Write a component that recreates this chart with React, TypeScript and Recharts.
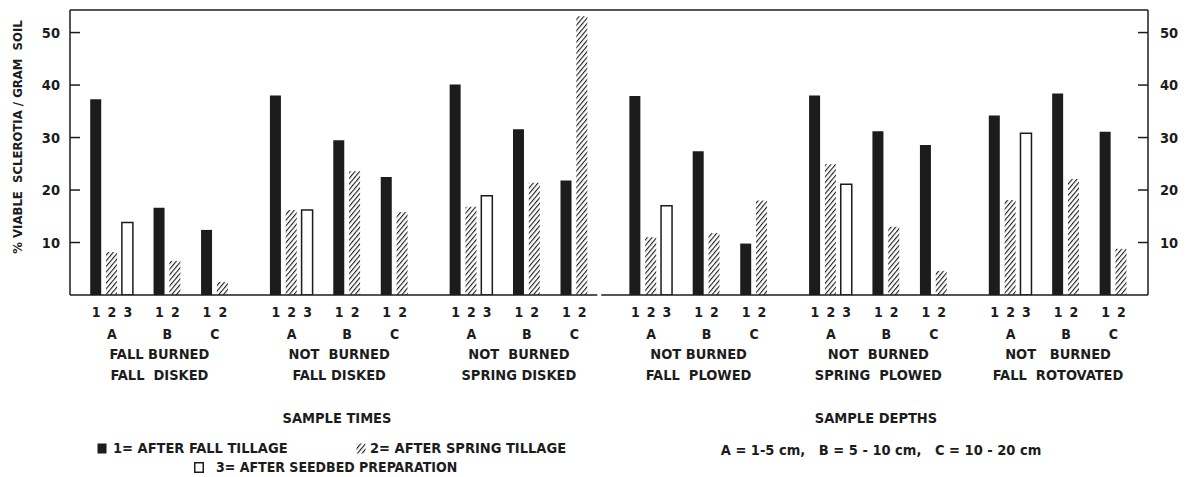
import React from "react";
import {Bar, BarChart, Cell, Legend, ReferenceLine, XAxis, YAxis} from "recharts";

// treatments (two-line labels under each group)
const treatmentLine1 = ["FALL BURNED", "NOT  BURNED", "NOT  BURNED", "NOT BURNED", "NOT  BURNED", "NOT   BURNED"];
const treatmentLine2 = ["FALL  DISKED", "FALL DISKED", "SPRING DISKED", "FALL  PLOWED", "SPRING  PLOWED", "FALL  ROTOVATED"];

const depths = ["A", "B", "C"];
const depthRanges = ["1-5 cm", "5 - 10 cm", "10 - 20 cm"];
const sampleTimes = ["AFTER FALL TILLAGE", "AFTER SPRING TILLAGE", "AFTER SEEDBED PREPARATION"];

// % viable sclerotia / gram soil, per treatment, depths A, B, C
const afterFallTillage = [
  [37.3, 16.6, 12.4],
  [38.0, 29.5, 22.5],
  [40.1, 31.6, 21.8],
  [37.9, 27.4, 9.8],
  [38.0, 31.2, 28.6],
  [34.2, 38.4, 31.1],
];
const afterSpringTillage = [
  [8.2, 6.5, 2.5],
  [16.2, 23.6, 15.8],
  [16.8, 21.4, 53.1],
  [11.0, 11.8, 18.0],
  [24.9, 13.0, 4.6],
  [18.1, 22.1, 8.8],
];
// only sampled at depth A
const afterSeedbed = [13.8, 16.2, 18.9, 17.0, 21.1, 30.8];

const yTicks = [10, 20, 30, 40, 50];

const INK = "#1c1c1c";
const FONT = "'DejaVu Sans Condensed', 'DejaVu Sans', sans-serif";
const W = 1187;
const H = 477;
const TOP = 10;
const PLOT_BOTTOM = 295;
const Y_MAX = 54.3;

// slot layout on a numeric x axis: one unit per bar
const GROUP_SPAN = 11.35;
const DEPTH_START = [0, 4, 7];
const X_MIN = -1.65;
const X_MAX = 5 * GROUP_SPAN + 8 + 1.68;
const GAP = [31.65, 31.9];

type Row = { pos: number; value: number; time: number };

const rows: Row[] = [];
const depthTicks: number[] = [];
const groupTicks: number[] = [];
treatmentLine1.forEach((_, g) => {
  groupTicks.push(g * GROUP_SPAN + 4);
  depths.forEach((_, d) => {
    const vals = [afterFallTillage[g][d], afterSpringTillage[g][d]];
    if (d === 0) vals.push(afterSeedbed[g]);
    const start = g * GROUP_SPAN + DEPTH_START[d];
    depthTicks.push(start + (vals.length - 1) / 2);
    vals.forEach((v, t) => rows.push({pos: start + t, value: v, time: t}));
  });
});

const key = (v: number) => v.toFixed(3);
const timeAt = new Map(rows.map(r => [key(r.pos), r.time]));
const depthAt = new Map(depthTicks.map((p, i) => [key(p), depths[i % 3]]));
const groupAt = new Map(groupTicks.map((p, i) => [key(p), i]));

const textStyle = {fontFamily: FONT, fontWeight: 700, fill: INK, whiteSpace: "pre" as const};

const DigitTick = ({x, payload}: any) => (
  <text x={x} y={PLOT_BOTTOM + 17} textAnchor="middle" dominantBaseline="central" fontSize={14} style={textStyle}>
    {(timeAt.get(key(payload.value)) ?? 0) + 1}
  </text>
);

const DepthTick = ({x, payload}: any) => (
  <text x={x} y={PLOT_BOTTOM + 38.5} textAnchor="middle" dominantBaseline="central" fontSize={14} style={textStyle}>
    {depthAt.get(key(payload.value))}
  </text>
);

const GroupTick = ({x, payload}: any) => {
  const g = groupAt.get(key(payload.value)) ?? 0;
  return (
    <g>
      <text x={x} y={PLOT_BOTTOM + 59} textAnchor="middle" dominantBaseline="central" fontSize={14.5} style={textStyle}>
        {treatmentLine1[g]}
      </text>
      <text x={x} y={PLOT_BOTTOM + 80} textAnchor="middle" dominantBaseline="central" fontSize={14.5} style={textStyle}>
        {treatmentLine2[g]}
      </text>
    </g>
  );
};

const LeftTick = ({x, y, payload}: any) => (
  <g>
    <line x1={x} x2={x + 10} y1={y} y2={y} stroke={INK} strokeWidth={1.5}/>
    <text x={x - 10} y={y} textAnchor="end" dominantBaseline="central" fontSize={14.5} style={textStyle}>
      {payload.value}
    </text>
  </g>
);

const RightTick = ({x, y, payload}: any) => (
  <g>
    <line x1={x - 10} x2={x} y1={y} y2={y} stroke={INK} strokeWidth={1.5}/>
    <text x={x + 12} y={y} textAnchor="start" dominantBaseline="central" fontSize={14.5} style={textStyle}>
      {payload.value}
    </text>
  </g>
);

const YLabel = ({viewBox}: any) => {
  const cx = viewBox.x + 17;
  const cy = viewBox.y + 127;
  return (
    <text x={cx} y={cy} transform={`rotate(-90, ${cx}, ${cy})`} textAnchor="middle" dominantBaseline="central"
          fontSize={13} style={textStyle}>
      % VIABLE  SCLEROTIA / GRAM  SOIL
    </text>
  );
};

const Swatch = ({time}: { time: number }) => (
  <svg width={10} height={11} style={{display: "block"}}>
    {time === 0 && <rect x={0.5} y={0.5} width={9} height={10} fill={INK}/>}
    {time === 1 && <rect x={0.5} y={0.5} width={9} height={10} fill="url(#hatch)"/>}
    {time === 2 && <rect x={0.75} y={0.75} width={8.5} height={9.5} fill="#fff" stroke={INK} strokeWidth={1.5}/>}
  </svg>
);

const legendText: React.CSSProperties = {
  position: "absolute",
  fontFamily: FONT,
  fontWeight: 700,
  fontSize: 14.5,
  color: INK,
  whiteSpace: "pre",
  lineHeight: "16px",
  transform: "translateY(-50%)",
};

const LegendBlock = () => {
  const items = [
    {time: 0, sx: 97, tx: 113, y: 448},
    {time: 1, sx: 356, tx: 370, y: 448},
    {time: 2, sx: 194, tx: 216, y: 467},
  ];
  return (
    <div style={{position: "relative", width: W, height: H}}>
      <div style={{...legendText, left: 337, top: 418, transform: "translate(-50%, -50%)"}}>SAMPLE TIMES</div>
      {items.map(it => (
        <React.Fragment key={it.time}>
          <div style={{position: "absolute", left: it.sx, top: it.y - 5.5}}><Swatch time={it.time}/></div>
          <div style={{...legendText, left: it.tx, top: it.y, fontSize: it.time === 2 ? 14 : 14.5}}>
            {`${it.time + 1}= ${sampleTimes[it.time]}`}
          </div>
        </React.Fragment>
      ))}
      <div style={{...legendText, left: 876, top: 418, transform: "translate(-50%, -50%)"}}>SAMPLE DEPTHS</div>
      <div style={{...legendText, left: 881, top: 450, transform: "translate(-50%, -50%)"}}>
        {depths.map((d, i) => `${d} = ${depthRanges[i]}`).join(",   ")}
      </div>
    </div>
  );
};

const barFill = (time: number) => (time === 0 ? INK : time === 1 ? "url(#hatch)" : "#ffffff");

export default function App() {
  return (
    <div style={{position: "absolute", left: 0, top: 0, width: W, height: H, background: "#fff"}}>
      <BarChart width={W} height={H} data={rows} margin={{top: TOP, right: 0, bottom: 0, left: 0}}>
        <defs>
          <pattern id="hatch" width={3.6} height={3.6} patternUnits="userSpaceOnUse" patternTransform="rotate(40)">
            <rect width={3.6} height={3.6} fill="#fff"/>
            <line x1={0} y1={0} x2={0} y2={3.6} stroke={INK} strokeWidth={2.2}/>
          </pattern>
        </defs>
        <XAxis xAxisId="bars" dataKey="pos" type="number" domain={[X_MIN, X_MAX]} allowDataOverflow
               ticks={rows.map(r => r.pos)} interval={0} tick={<DigitTick/>} tickSize={0} tickMargin={0}
               tickLine={false} axisLine={false} height={30}/>
        <XAxis xAxisId="depth" dataKey="pos" type="number" domain={[X_MIN, X_MAX]} allowDataOverflow
               ticks={depthTicks} interval={0} tick={<DepthTick/>} tickSize={0} tickMargin={0}
               tickLine={false} axisLine={false} height={20}/>
        <XAxis xAxisId="treat" dataKey="pos" type="number" domain={[X_MIN, X_MAX]} allowDataOverflow
               ticks={groupTicks} interval={0} tick={<GroupTick/>} tickSize={0} tickMargin={0}
               tickLine={false} axisLine={false} height={132}/>
        <YAxis yAxisId="left" orientation="left" width={70} domain={[0, Y_MAX]} allowDataOverflow ticks={yTicks}
               interval={0} tick={<LeftTick/>} tickSize={0} tickMargin={0} tickLine={false}
               axisLine={{stroke: INK, strokeWidth: 1.5}} label={<YLabel/>}/>
        <YAxis yAxisId="right" orientation="right" width={39} domain={[0, Y_MAX]} allowDataOverflow ticks={yTicks}
               interval={0} tick={<RightTick/>} tickSize={0} tickMargin={0} tickLine={false}
               axisLine={{stroke: INK, strokeWidth: 1.5}}/>
        <ReferenceLine xAxisId="bars" yAxisId="left" y={Y_MAX} stroke={INK} strokeWidth={1.5}/>
        <ReferenceLine xAxisId="bars" yAxisId="left" stroke={INK} strokeWidth={1.5}
                       segment={[{x: X_MIN, y: 0}, {x: GAP[0], y: 0}]}/>
        <ReferenceLine xAxisId="bars" yAxisId="left" stroke={INK} strokeWidth={1.5}
                       segment={[{x: GAP[1], y: 0}, {x: X_MAX, y: 0}]}/>
        <Bar xAxisId="bars" yAxisId="left" dataKey="value" barSize={11} isAnimationActive={false}>
          {rows.map((r, i) => (
            <Cell key={`cell-${i}`} fill={barFill(r.time)} stroke={r.time === 2 ? INK : "none"}
                  strokeWidth={r.time === 2 ? 1.5 : 0}/>
          ))}
        </Bar>
        <Legend verticalAlign="middle" align="center" layout="horizontal" content={<LegendBlock/>}
                wrapperStyle={{left: 0, top: 0, width: W, height: H, pointerEvents: "none"}}/>
      </BarChart>
    </div>
  );
}
